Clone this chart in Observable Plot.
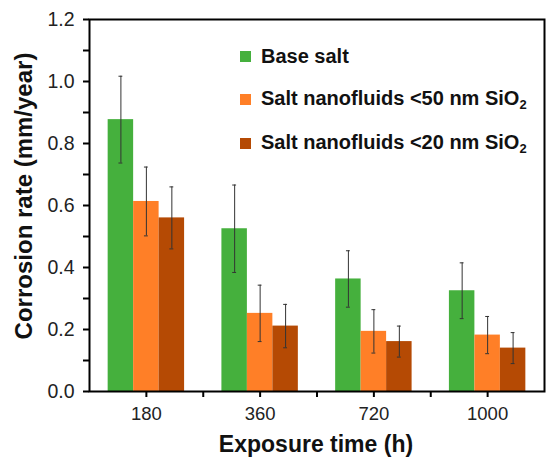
<!DOCTYPE html>
<html><head><meta charset="utf-8">
<script src="https://cdn.jsdelivr.net/npm/d3@7"></script>
<script src="https://cdn.jsdelivr.net/npm/@observablehq/plot@0.6"></script>
<style>
body{margin:0;background:#fff;font-family:"Liberation Sans",Arial,sans-serif;}
#wrap{position:relative;width:550px;height:462px;}
#legend{position:absolute;left:240px;top:35px;font-weight:bold;font-size:20px;color:#111;}
#legend .row{display:flex;align-items:center;height:43.3px;}
#legend .sw{width:11px;height:11px;margin-right:10px;}
#legend sub{font-size:13px;vertical-align:-4px;}
</style></head>
<body><div id="wrap"><div id="legend"></div></div>
<script>
const times = ["180", "360", "720", "1000"];
const series = ["Base salt", "Salt nanofluids <50 nm SiO2", "Salt nanofluids <20 nm SiO2"];
const seriesHtml = ["Base salt", "Salt nanofluids &lt;50 nm SiO<sub>2</sub>", "Salt nanofluids &lt;20 nm SiO<sub>2</sub>"];
const colors = ["#45b03d", "#ff7f27", "#b54a04"];
const baseSalt = [0.877, 0.525, 0.363, 0.325];
const nano50 = [0.613, 0.252, 0.194, 0.182];
const nano20 = [0.560, 0.211, 0.161, 0.140];
const errBase = [0.140, 0.141, 0.091, 0.090];
const err50 = [0.111, 0.091, 0.070, 0.060];
const err20 = [0.100, 0.070, 0.050, 0.050];
const yTicks = [0, 0.2, 0.4, 0.6, 0.8, 1.0, 1.2];
const yMinor = [0.1, 0.3, 0.5, 0.7, 0.9, 1.1];

const barW = 0.224; // fraction of group step
const capW = 0.017;
const vals = [baseSalt, nano50, nano20];
const errs = [errBase, err50, err20];
const data = [];
times.forEach((t, i) => {
  series.forEach((s, j) => {
    const c = i + 0.5 + (j - 1) * barW;
    data.push({t, s, x1: c - barW / 2, x2: c + barW / 2, xc: c, cl: c - capW, cr: c + capW,
      v: vals[j][i], lo: vals[j][i] - errs[j][i], hi: vals[j][i] + errs[j][i]});
  });
});

const chart = Plot.plot({
  width: 550, height: 462,
  marginLeft: 89, marginRight: 6, marginTop: 19, marginBottom: 71,
  style: {fontFamily: "Liberation Sans, Arial, sans-serif", background: "#fff", color: "#111"},
  x: {type: "linear", domain: [0, 4]},
  y: {type: "linear", domain: [0, 1.2]},
  color: {domain: series, range: colors},
  marks: [
    Plot.rectY(data, {x1: "x1", x2: "x2", y1: 0, y2: "v", fill: "s"}),
    Plot.ruleX(data, {x: "xc", y1: "lo", y2: "hi", stroke: "#333", strokeWidth: 1}),
    Plot.ruleY(data, {y: "hi", x1: "cl", x2: "cr", stroke: "#333", strokeWidth: 1}),
    Plot.ruleY(data, {y: "lo", x1: "cl", x2: "cr", stroke: "#333", strokeWidth: 1}),
    Plot.axisY({ticks: yTicks, tickFormat: d => d.toFixed(1), tickSize: 6, tickPadding: 9, fontSize: 19.5, fill: "#222", stroke: "#000", strokeWidth: 2, label: null}),
    Plot.axisY({ticks: yMinor, tickFormat: () => "", tickSize: 6, stroke: "#000", strokeWidth: 2, label: null}),
    Plot.axisX({ticks: times.map((_, i) => i + 0.5), tickFormat: d => times[Math.floor(d)], tickSize: 6, tickPadding: 9, fontSize: 18.5, fill: "#222", stroke: "#000", strokeWidth: 2, label: null}),
    Plot.axisX({ticks: [1, 2, 3], tickFormat: () => "", tickSize: 6, stroke: "#000", strokeWidth: 2, label: null}),
    Plot.frame({stroke: "#000", strokeWidth: 2})
  ]
});

document.getElementById("wrap").prepend(chart);
const svg = d3.select(chart);
svg.append("text").attr("x", 316).attr("y", 452).attr("text-anchor", "middle")
  .attr("font-size", 23).attr("font-weight", "bold").attr("fill", "#111").text("Exposure time (h)");
svg.append("text").attr("transform", "translate(32,196) rotate(-90)").attr("text-anchor", "middle")
  .attr("font-size", 24).attr("font-weight", "bold").attr("fill", "#111").text("Corrosion rate (mm/year)");

const lg = document.getElementById("legend");
seriesHtml.forEach((h, j) => {
  const r = document.createElement("div"); r.className = "row";
  r.innerHTML = `<div class="sw" style="background:${colors[j]}"></div><div>${h}</div>`;
  lg.appendChild(r);
});
</script></body></html>
